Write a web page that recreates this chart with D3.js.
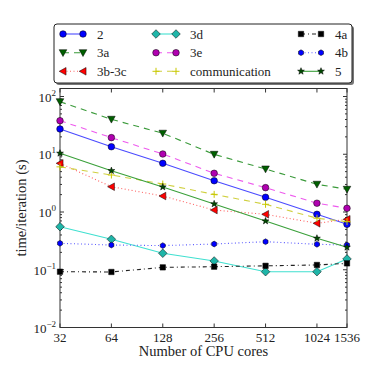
<!DOCTYPE html>
<html>
<head>
<meta charset="utf-8">
<script src="https://cdn.jsdelivr.net/npm/d3@7"></script>
<style>
    body{margin:0;background:#fff;}
</style>
</head>
<body>
<div id="graphWrapper"></div>
<script>
//data
const CORES = [32, 64, 128, 256, 512, 1024, 1536];
const T_2 = [27.4, 13.5, 6.97, 3.48, 1.80, 0.912, 0.612];
const T_3A = [81.3, 40.3, 23.1, 9.97, 5.55, 3.02, 2.47];
const T_3BC = [6.97, 2.74, 1.89, 1.08, 0.912, 0.637, 0.748];
const T_3D = [0.556, 0.337, 0.193, 0.142, 0.0925, 0.0925, 0.154];
const T_3E = [38.1, 19.4, 10.1, 4.68, 2.64, 1.42, 1.16];
const T_COMM = [6.05, 4.37, 3.05, 2.02, 1.36, 0.78, 0.68];
const T_4A = [0.0925, 0.0915, 0.110, 0.113, 0.117, 0.121, 0.129];
const T_4B = [0.287, 0.268, 0.262, 0.279, 0.306, 0.276, 0.268];
const T_5 = [10.4, 5.19, 2.71, 1.38, 0.698, 0.350, 0.245];
const SERIES_LABELS = ['2', '3a', '3b-3c', '3d', '3e', 'communication', '4a', '4b', '5'];
const X_TICKS = [32, 64, 128, 256, 512, 1024, 1536];
const Y_TICK_EXPONENTS = [-2, -1, 0, 1, 2];

const FONT = "'Liberation Serif'";

const CONSTANTS = {
    WIDTH:374,
    HEIGHT:374,
    LEFT:60,     //left edge of the axes box
    RIGHT:347,   //right edge
    TOP:88.5,    //top edge
    BOTTOM:327.5,//bottom edge
    Y_MAX:137.6  //the axes go a little above 10^2
};

//line and marker style for each series, same order as SERIES_LABELS
const STYLES = [
    {line:'#4b4bff', dash:null, marker:'circle', fill:'#0000ff', size:3.3},
    {line:'#3a9a3a', dash:'6,5', marker:'triDown', fill:'#006000', size:3.8},
    {line:'#ff6060', dash:'1,2.5', marker:'triLeft', fill:'#ff0000', size:3.8},
    {line:'#40e0d0', dash:null, marker:'diamond', fill:'#1fb5a8', size:4.3},
    {line:'#ee5aee', dash:'6,5', marker:'circle', fill:'#b000b0', size:3.3},
    {line:'#d0d040', dash:'6,5', marker:'plus', fill:'#c8c800', size:3.5},
    {line:'#222', dash:'4,3,1,3', marker:'square', fill:'#000', size:2.7},
    {line:'#5a5aff', dash:'1,2.5', marker:'hexagon', fill:'#0000ff', size:2.9},
    {line:'#3aa03a', dash:null, marker:'star', fill:'#004a00', size:3.6}
];

const SERIES_VALUES = [T_2, T_3A, T_3BC, T_3D, T_3E, T_COMM, T_4A, T_4B, T_5];

function main(){
    let svg = d3.select('#graphWrapper')
        .append('svg')
        .attr('width',CONSTANTS.WIDTH)
        .attr('height',CONSTANTS.HEIGHT);

    let scales = buildScales();
    buildAxis(svg,scales);
    buildLines(svg,scales);
    buildLegend(svg);
}

function buildScales(){
    let x = d3.scaleLog().base(2)
        .domain([32,1536])
        .range([CONSTANTS.LEFT,CONSTANTS.RIGHT]);
    let y = d3.scaleLog()
        .domain([0.01,CONSTANTS.Y_MAX])
        .range([CONSTANTS.BOTTOM,CONSTANTS.TOP]);
    return {x:x,y:y};
}

//builds the frame, ticks and labels
function buildAxis(svg,scales){
    let x = scales.x;
    let y = scales.y;
    let w = CONSTANTS.RIGHT - CONSTANTS.LEFT;
    let h = CONSTANTS.BOTTOM - CONSTANTS.TOP;

    //minor ticks for the log y axis
    let minor = [];
    Y_TICK_EXPONENTS.forEach(e=>{
        for(let k=2;k<10;k++){
            let v = k*Math.pow(10,e);
            if(v < CONSTANTS.Y_MAX) minor.push(v);
        }
    });
    let major = Y_TICK_EXPONENTS.map(e=>Math.pow(10,e));

    //ticks pointing inward on all four sides
    let g = svg.append('g').attr('id','ticks').attr('stroke','#000').attr('stroke-width',0.8);
    g.selectAll('.yminL').data(minor).enter().append('line')
        .attr('x1',CONSTANTS.LEFT).attr('x2',CONSTANTS.LEFT+2)
        .attr('y1',d=>y(d)).attr('y2',d=>y(d));
    g.selectAll('.yminR').data(minor).enter().append('line')
        .attr('x1',CONSTANTS.RIGHT).attr('x2',CONSTANTS.RIGHT-2)
        .attr('y1',d=>y(d)).attr('y2',d=>y(d));
    g.selectAll('.ymajL').data(major).enter().append('line')
        .attr('x1',CONSTANTS.LEFT).attr('x2',CONSTANTS.LEFT+4)
        .attr('y1',d=>y(d)).attr('y2',d=>y(d));
    g.selectAll('.ymajR').data(major).enter().append('line')
        .attr('x1',CONSTANTS.RIGHT).attr('x2',CONSTANTS.RIGHT-4)
        .attr('y1',d=>y(d)).attr('y2',d=>y(d));
    g.selectAll('.xB').data(X_TICKS).enter().append('line')
        .attr('x1',d=>x(d)).attr('x2',d=>x(d))
        .attr('y1',CONSTANTS.BOTTOM).attr('y2',CONSTANTS.BOTTOM-4);
    g.selectAll('.xT').data(X_TICKS).enter().append('line')
        .attr('x1',d=>x(d)).attr('x2',d=>x(d))
        .attr('y1',CONSTANTS.TOP).attr('y2',CONSTANTS.TOP+4);

    //frame
    svg.append('rect')
        .attr('x',CONSTANTS.LEFT).attr('y',CONSTANTS.TOP)
        .attr('width',w).attr('height',h)
        .attr('fill','none').attr('stroke','#333').attr('stroke-width',1);

    //x tick labels
    svg.append('g').selectAll('text').data(X_TICKS).enter().append('text')
        .attr('x',d=>x(d)).attr('y',CONSTANTS.BOTTOM+14)
        .attr('text-anchor','middle').attr('font-size',13).attr('fill','#222')
        .style('font-family',FONT)
        .text(d=>d);

    //y tick labels, 10 with a superscript
    let yl = svg.append('g').selectAll('text').data(Y_TICK_EXPONENTS).enter().append('text')
        .attr('x',CONSTANTS.LEFT-4).attr('y',d=>y(Math.pow(10,d))+5)
        .attr('text-anchor','end').attr('font-size',13).attr('fill','#222')
        .style('font-family',FONT);
    yl.append('tspan').text('10');
    yl.append('tspan').attr('dy',-6).attr('font-size',9)
        .text(d=>(d<0 ? '\u2212' + (-d) : d));

    //axis titles
    svg.append('text')
        .attr('x',(CONSTANTS.LEFT+CONSTANTS.RIGHT)/2).attr('y',356)
        .attr('text-anchor','middle').attr('font-size',14.5).attr('fill','#222')
        .style('font-family',FONT)
        .text('Number of CPU cores');
    svg.append('text')
        .attr('transform','translate(26,' + ((CONSTANTS.TOP+CONSTANTS.BOTTOM)/2) + ') rotate(-90)')
        .attr('text-anchor','middle').attr('font-size',14.5).attr('fill','#222')
        .style('font-family',FONT)
        .text('time/iteration (s)');
}

//returns an svg path for a marker centred on 0,0
function markerPath(shape,s){
    let pts;
    if(shape=='circle'){
        return d3.arc()({innerRadius:0,outerRadius:s,startAngle:0,endAngle:2*Math.PI});
    }
    if(shape=='plus'){
        return 'M' + (-s) + ',0H' + s + 'M0,' + (-s) + 'V' + s;
    }
    if(shape=='triDown'){
        pts = [[-s,-s*0.8],[s,-s*0.8],[0,s]];
    }
    else if(shape=='triLeft'){
        pts = [[s*0.8,-s],[s*0.8,s],[-s,0]];
    }
    else if(shape=='diamond'){
        pts = [[0,-s],[s,0],[0,s],[-s,0]];
    }
    else if(shape=='square'){
        pts = [[-s,-s],[s,-s],[s,s],[-s,s]];
    }
    else if(shape=='hexagon'){
        pts = d3.range(6).map(i=>{
            let a = Math.PI/2 + i*Math.PI/3;
            return [s*Math.cos(a),-s*Math.sin(a)];
        });
    }
    else if(shape=='star'){
        pts = d3.range(10).map(i=>{
            let r = (i%2==0) ? s : s*0.42;
            let a = Math.PI/2 + i*Math.PI/5;
            return [r*Math.cos(a),-r*Math.sin(a)];
        });
    }
    return 'M' + pts.map(p=>p[0].toFixed(2) + ',' + p[1].toFixed(2)).join('L') + 'Z';
}

function drawMarker(sel,style){
    let p = sel.append('path').attr('d',markerPath(style.marker,style.size));
    if(style.marker=='plus'){
        p.attr('fill','none').attr('stroke',style.fill).attr('stroke-width',1);
    }
    else{
        p.attr('fill',style.fill).attr('stroke','#000').attr('stroke-width',0.5);
    }
    return p;
}

//draws each series as a line with markers
function buildLines(svg,scales){
    let x = scales.x;
    let y = scales.y;
    let line = d3.line().x(d=>x(d[0])).y(d=>y(d[1]));

    SERIES_VALUES.forEach((vals,i)=>{
        let style = STYLES[i];
        let pts = CORES.map((c,j)=>[c,vals[j]]);
        let g = svg.append('g').attr('class','series');
        g.append('path')
            .attr('d',line(pts))
            .attr('fill','none')
            .attr('stroke',style.line)
            .attr('stroke-width',1.1)
            .attr('stroke-dasharray',style.dash);
        g.selectAll('g.pt').data(pts).enter().append('g')
            .attr('class','pt')
            .attr('transform',d=>'translate(' + x(d[0]) + ',' + y(d[1]) + ')')
            .each(function(){ drawMarker(d3.select(this),style); });
    });
}

function buildLegend(svg){
    let boxX = 54, boxY = 24, boxW = 298, boxH = 59;
    let rowY = [34, 52.7, 71.3];
    let colX = [63, 156, 301];  //left end of the sample line
    let sampleW = 20;

    svg.append('rect')
        .attr('x',boxX+2).attr('y',boxY+2).attr('width',boxW).attr('height',boxH)
        .attr('rx',3).attr('fill','#777');
    svg.append('rect')
        .attr('x',boxX).attr('y',boxY).attr('width',boxW).attr('height',boxH)
        .attr('rx',3).attr('fill','#fff').attr('stroke','#222').attr('stroke-width',1);

    SERIES_LABELS.forEach((label,i)=>{
        let style = STYLES[i];
        let cx = colX[Math.floor(i/3)];
        let cy = rowY[i%3];
        let g = svg.append('g').attr('class','legend');
        g.append('line')
            .attr('x1',cx).attr('x2',cx+sampleW)
            .attr('y1',cy).attr('y2',cy)
            .attr('stroke',style.line).attr('stroke-width',1.1)
            .attr('stroke-dasharray',style.dash);
        [cx,cx+sampleW].forEach(px=>{
            let m = g.append('g').attr('transform','translate(' + px + ',' + cy + ')');
            drawMarker(m,style);
        });
        g.append('text')
            .attr('x',cx+34).attr('y',cy+4.5)
            .attr('font-size',13).attr('fill','#222')
            .style('font-family',FONT)
            .text(label);
    });
}

main();
</script>
</body>
</html>
